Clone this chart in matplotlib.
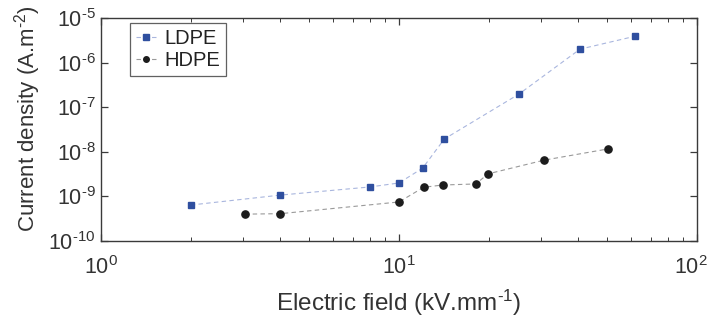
import numpy as np
import matplotlib
matplotlib.use("Agg")
import matplotlib.pyplot as plt
import matplotlib.transforms as mtransforms
from matplotlib.ticker import LogLocator, FuncFormatter

plt.rcParams['font.family'] = ['Liberation Sans', 'DejaVu Sans']
plt.rcParams['mathtext.fontset'] = 'custom'
plt.rcParams['mathtext.rm'] = 'Liberation Sans'
plt.rcParams['mathtext.it'] = 'Liberation Sans'
plt.rcParams['mathtext.bf'] = 'Liberation Sans'

# LDPE measurements
ldpe_field = [2.0, 4.0, 8.0, 10.0, 12.0, 14.2, 25.3, 40.5, 62.0]
ldpe_current = [6.4e-10, 1.07e-9, 1.63e-9, 2.0e-9, 4.3e-9, 1.94e-8, 1.98e-7, 2.0e-6, 3.9e-6]

# HDPE measurements
hdpe_field = [3.04, 4.0, 10.0, 12.1, 14.0, 18.1, 19.9, 30.7, 50.3]
hdpe_current = [4.0e-10, 4.1e-10, 7.5e-10, 1.6e-9, 1.8e-9, 1.9e-9, 3.2e-9, 6.5e-9, 1.16e-8]

axis_col = '#3a3a3a'
text_col = '#333333'


def pow10(v, pos):
    e = int(round(np.log10(v)))
    if e < 0:
        return r'$\mathdefault{10^{\text{-}%d}}$' % (-e)
    return r'$\mathdefault{10^{%d}}$' % e


fig = plt.figure(figsize=(7.12, 3.27), dpi=100)
ax = fig.add_axes([0.1419, 0.263, 0.837, 0.682])

ax.plot(ldpe_field, ldpe_current, linestyle='--', dashes=(4, 3), color='#a9b6de', linewidth=0.8,
        marker='s', markersize=4.5, markerfacecolor='#2f4f9f', markeredgecolor='#2f4f9f', label='LDPE')
ax.plot(hdpe_field, hdpe_current, linestyle='--', dashes=(4, 3), color='#9a9a9a', linewidth=0.8,
        marker='o', markersize=5.2, markerfacecolor='#1c1c1c', markeredgecolor='#1c1c1c', label='HDPE')

ax.set_xscale('log')
ax.set_yscale('log')
ax.set_xlim(1, 100)
ax.set_ylim(1e-10, 1e-5)
ax.xaxis.set_major_locator(LogLocator(base=10, numticks=10))
ax.yaxis.set_major_locator(LogLocator(base=10, numticks=10))
ax.xaxis.set_major_formatter(FuncFormatter(pow10))
ax.yaxis.set_major_formatter(FuncFormatter(pow10))

for s in ax.spines.values():
    s.set_color(axis_col)
    s.set_linewidth(1.0)
ax.tick_params(which='both', direction='in', top=True, right=True, colors=axis_col,
               labelcolor=text_col, labelsize=15.5)
ax.tick_params(which='major', length=5, width=0.9)
ax.tick_params(which='minor', length=3, width=0.7)
ax.tick_params(axis='x', pad=11)
ax.tick_params(axis='y', pad=4)

ax.set_xlabel('Electric field (kV.mm$^{\\text{-}1}$)', fontsize=17.5, color=text_col, labelpad=6)
ax.set_ylabel('Current density (A.m$^{\\text{-}2}$)', fontsize=16, color=text_col)
ax.yaxis.set_label_coords(-0.098, 0.55)

leg = ax.legend(loc='upper left', bbox_to_anchor=(0.0487, 0.978), borderaxespad=0,
                fontsize=14.5, frameon=True, fancybox=False, edgecolor=axis_col,
                handlelength=1.0, handletextpad=0.4, borderpad=0.3, labelspacing=0.15)
leg.get_frame().set_linewidth(0.9)
for t in leg.get_texts():
    t.set_color('#222222')
for h in leg.legend_handles:
    h.set_markersize(4)

# nudge the 10^2 label so it stays inside the canvas
fig.canvas.draw()
shift = mtransforms.ScaledTranslation(-6 / 100, 0, fig.dpi_scale_trans)
for tick, loc in zip(ax.xaxis.get_major_ticks(), ax.xaxis.get_majorticklocs()):
    if np.isclose(loc, 100):
        tick.label1.set_transform(tick.label1.get_transform() + shift)

fig.savefig('out.png', dpi=100)
